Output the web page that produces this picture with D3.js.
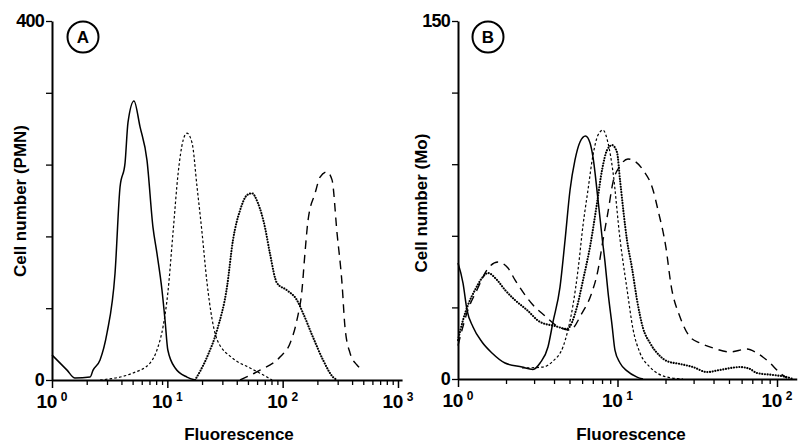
<!DOCTYPE html>
<html>
<head>
<meta charset="utf-8">
<script src="https://cdn.jsdelivr.net/npm/d3@7"></script>
<style>
  body { margin: 0; background: #fff; }
  svg { display: block; }
  text { font-family: "Liberation Sans", Arial, Helvetica, sans-serif; fill: #000; }
</style>
</head>
<body>
<div id="chart"></div>
<script>
/* valeurs : [fluorescence, nombre de cellules] */
const solidA = [[1.0,27.9],[1.35,11],[1.58,2.2],[2.14,3.3],[2.27,11],[2.61,22.3],[3.0,52.4],[3.52,119],[3.89,215],[4.30,242],[4.56,287],[5.14,311],[5.80,282],[6.66,245],[7.51,170],[8.13,141],[8.99,100],[9.55,66.9],[10.1,33.4],[11.7,13.4],[14.8,3.3],[17.4,0]];
const fineA = [[2.61,0],[5.04,7.8],[7.08,18.9],[8.30,36.8],[9.17,59],[10.1,97],[11.2,164],[12.4,230],[13.7,267],[14.8,275],[16.4,264],[18.1,215],[20.0,164],[22.1,108],[27.0,45],[37.1,24],[52.1,13.4],[73.1,3.3],[80.9,0]];
const dotA = [[17.4,0],[22.1,25.6],[27.0,55.7],[32.9,103.6],[37.1,156],[42.7,189],[49.1,206],[54.2,208],[61.1,197],[70.3,170],[77.6,141],[89.3,108],[109,100],[133,89],[150,74.7],[183,47.9],[224,22.3],[273,3.3],[296,0]];
const dashA = [[42.7,0],[63.6,11],[94.8,25.6],[116,41],[133,66.9],[147,100],[156,141],[166,178],[191,208],[211,226],[242,232],[268,223],[296,164],[327,108],[347,59],[384,30],[441,16.7],[498,11]];

const solidB = [[1.0,48.6],[1.075,40.2],[1.139,28.9],[1.242,21.8],[1.414,15.5],[1.633,10.9],[1.971,6.7],[2.519,5.0],[2.952,4.0],[3.27,6.7],[3.665,13.4],[3.941,23.9],[4.36,38.5],[4.69,58.2],[5.04,79.2],[5.41,91.7],[5.82,99.3],[6.3,101.8],[6.72,99],[7.02,93],[7.55,75],[8.0,59.5],[8.35,49],[8.72,36.4],[9.24,22.6],[9.64,12.1],[10.37,6.7],[11.47,3.4],[13.26,0.8],[14.45,0]];
const fineB = [[2.519,4.6],[3.41,5.0],[3.941,7.5],[4.55,13.4],[4.89,20.5],[5.26,31],[5.655,45.7],[6.08,64.5],[6.53,79.2],[7.02,93.8],[7.55,102.2],[8.11,104.3],[8.72,98.9],[9.37,86.7],[10.37,58.6],[11.47,37.7],[12.51,20.9],[13.84,10.9],[15.99,5.0],[20.43,0.8],[25.75,0]];
const dotB = [[1.0,16.3],[1.075,24.7],[1.155,31],[1.278,37.3],[1.414,42.3],[1.542,44.4],[1.756,41.5],[1.971,37.3],[2.276,33.1],[2.708,28.9],[3.268,23.9],[4.055,22.2],[4.825,21],[5.57,30.2],[6.08,41.5],[6.72,55.3],[7.44,73.7],[8.0,87.6],[8.6,95.9],[9.24,98],[9.93,95],[10.37,83.4],[11.47,58.2],[12.33,46.5],[13.26,33.1],[14.45,21.4],[15.99,15.1],[18.48,9.6],[20.43,7.5],[24.66,6.3],[29.74,5.0],[36.4,2.9],[43.9,3.8],[58.6,5.0],[67.7,4.2],[74.9,2.5],[94.4,1.7],[115.5,0.8],[126,0]];
const dashB = [[1.0,14],[1.155,29],[1.315,37.3],[1.52,45.7],[1.781,49],[2.058,46.5],[2.276,41.5],[2.556,36.4],[2.952,31],[3.512,26.4],[4.175,22.2],[5.04,20.5],[5.99,27.6],[6.82,35.2],[7.55,45.7],[8.11,58.2],[8.72,70],[9.37,82.5],[10.37,89.2],[11.63,92.2],[14.45,87.6],[16.7,79.2],[17.94,70.8],[20.14,54.9],[21.65,39.4],[24.66,26],[28.48,17.6],[32.9,15.1],[39.7,13],[50.7,11.3],[64.9,12.6],[74.9,10.9],[90.4,6.7],[104.4,2.5],[115.5,0.4]];

const yTicksA = [0, 80, 160, 240, 320, 400];
const yTicksB = [0, 30, 60, 90, 120, 150];
const decadesA = [1, 10, 100, 1000];
const decadesB = [1, 10, 100];

const width = 801, height = 446;

const svg = d3.select("#chart").append("svg")
    .attr("width", width)
    .attr("height", height)
    .attr("viewBox", [0, 0, width, height]);

/* les styles de trait des quatre histogrammes */
const styles = {
  solid: {dash: null, w: 1.5, cap: "butt"},
  fine:  {dash: "2.6,2.2", w: 1.2, cap: "butt"},
  dot:   {dash: "0.1,2.6", w: 2.1, cap: "round"},
  dash:  {dash: "8.5,6", w: 1.4, cap: "butt"}
};

function minorTicks(decades) {
  const t = [];
  decades.slice(0, -1).forEach(d => {
    for (let k = 2; k < 10; k++) t.push(d * k);
  });
  return t;
}

function drawPanel(p) {
  const g = svg.append("g");
  const x = d3.scaleLog().domain(p.xDomain).range(p.xRange);
  const y = d3.scaleLinear().domain([0, p.yMax]).range([p.y0, p.y1]);

  const line = d3.line()
      .x(d => x(d[0]))
      .y(d => y(d[1]))
      .curve(d3.curveMonotoneX);

  p.series.forEach(s => {
    const st = styles[s.style];
    g.append("path")
        .datum(s.data)
        .attr("fill", "none")
        .attr("stroke", "#000")
        .attr("stroke-width", st.w)
        .attr("stroke-linecap", st.cap)
        .attr("stroke-dasharray", st.dash)
        .attr("d", line);
  });

  // axe y : graduations vers la gauche, étiquettes seulement à 0 et au max
  const yAxis = g.append("g")
      .attr("transform", `translate(${p.xRange[0]},0)`)
      .call(d3.axisLeft(y)
        .tickValues(p.yTicks)
        .tickSize(6)
        .tickSizeOuter(0)
        .tickPadding(2)
        .tickFormat(d => (d === 0 || d === p.yMax) ? d : ""));
  yAxis.select(".domain").attr("stroke-width", 2);
  yAxis.selectAll(".tick line").attr("stroke-width", 1.3);
  yAxis.selectAll(".tick text")
      .attr("font-size", 18)
      .attr("font-weight", "bold")
      .attr("letter-spacing", -0.8)
      .attr("font-family", "Liberation Sans, Arial, sans-serif");

  // axe x logarithmique : petites graduations puis décades
  const xMinor = g.append("g")
      .attr("transform", `translate(0,${p.y0})`)
      .call(d3.axisBottom(x)
        .tickValues(minorTicks(p.decades))
        .tickSize(5)
        .tickSizeOuter(0)
        .tickFormat(""));
  xMinor.select(".domain").attr("stroke-width", 2);
  xMinor.selectAll(".tick line").attr("stroke-width", 1.3);

  const xMajor = g.append("g")
      .attr("transform", `translate(0,${p.y0})`)
      .call(d3.axisBottom(x)
        .tickValues(p.decades)
        .tickSize(8)
        .tickSizeOuter(0)
        .tickFormat(""));
  xMajor.select(".domain").remove();
  xMajor.selectAll(".tick line").attr("stroke-width", 1.5);

  // étiquettes 10^n
  const lab = g.selectAll(".dec")
    .data(p.decades)
    .join("text")
      .attr("x", d => x(d))
      .attr("y", p.y0 + 28)
      .attr("text-anchor", "middle")
      .attr("font-size", 19)
      .attr("font-weight", "bold");
  lab.append("tspan").attr("letter-spacing", -0.5).text("10");
  lab.append("tspan")
      .attr("dx", 4)
      .attr("dy", -7)
      .attr("font-size", 12)
      .text(d => Math.round(Math.log10(d)));

  g.append("text")
      .attr("x", p.xTitle)
      .attr("y", 440)
      .attr("text-anchor", "middle")
      .attr("font-size", 17)
      .attr("font-weight", "bold")
      .text("Fluorescence");

  g.append("text")
      .attr("transform", `translate(${p.yTitleX},${p.yTitleY}) rotate(-90)`)
      .attr("text-anchor", "middle")
      .attr("font-size", 17)
      .attr("font-weight", "bold")
      .text(p.yTitle);

  // lettre encerclée
  g.append("circle")
      .attr("cx", p.badge[0])
      .attr("cy", p.badge[1])
      .attr("r", 15.5)
      .attr("fill", "none")
      .attr("stroke", "#000")
      .attr("stroke-width", 2);
  g.append("text")
      .attr("x", p.badge[0])
      .attr("y", p.badge[1] + 6)
      .attr("text-anchor", "middle")
      .attr("font-size", 17)
      .attr("font-weight", "bold")
      .text(p.id);
}

drawPanel({
  id: "A",
  xDomain: [1, 1085], xRange: [52, 52 + 115.33 * Math.log10(1085)],
  yMax: 400, y0: 380, y1: 21,
  yTicks: yTicksA, decades: decadesA,
  xTitle: 239, yTitle: "Cell number (PMN)", yTitleX: 26, yTitleY: 201,
  badge: [83, 37],
  series: [
    {data: solidA, style: "solid"},
    {data: fineA, style: "fine"},
    {data: dotA, style: "dot"},
    {data: dashA, style: "dash"}
  ]
});

drawPanel({
  id: "B",
  xDomain: [1, 133], xRange: [458, 458 + 159.5 * Math.log10(133)],
  yMax: 150, y0: 379, y1: 21,
  yTicks: yTicksB, decades: decadesB,
  xTitle: 631, yTitle: "Cell number (Mo)", yTitleX: 427, yTitleY: 203,
  badge: [488, 37],
  series: [
    {data: solidB, style: "solid"},
    {data: fineB, style: "fine"},
    {data: dotB, style: "dot"},
    {data: dashB, style: "dash"}
  ]
});
</script>
</body>
</html>
